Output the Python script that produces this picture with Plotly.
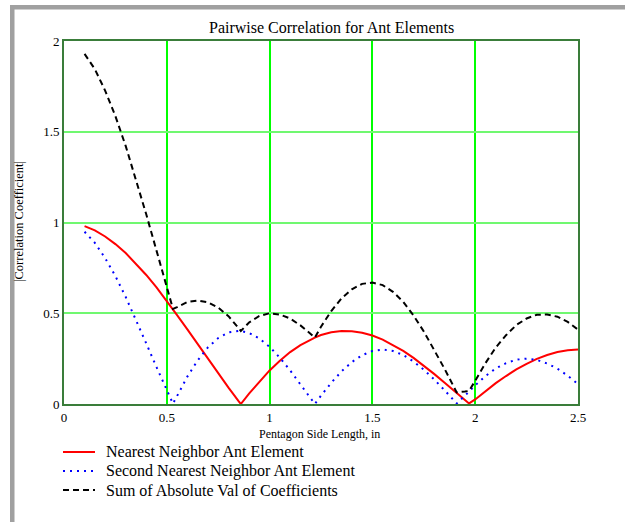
import plotly.graph_objects as go

# Pentagon side length (in) at which the correlations were evaluated
side_length = [0.10, 0.15, 0.20, 0.25, 0.30, 0.35, 0.40, 0.45, 0.50, 0.53,
               0.55, 0.60, 0.65, 0.70, 0.75, 0.80, 0.85, 0.86, 0.90, 0.95,
               1.00, 1.05, 1.10, 1.15, 1.20, 1.22, 1.25, 1.30, 1.35, 1.40,
               1.45, 1.50, 1.55, 1.60, 1.65, 1.70, 1.75, 1.80, 1.85, 1.90,
               1.91, 1.95, 1.97, 2.00, 2.05, 2.10, 2.15, 2.20, 2.25, 2.30,
               2.35, 2.40, 2.45, 2.50]

nearest = [0.980, 0.957, 0.923, 0.881, 0.832, 0.774, 0.711, 0.642, 0.568, 0.522,
           0.490, 0.411, 0.330, 0.248, 0.168, 0.090, 0.014, 0.000, 0.057, 0.124,
           0.185, 0.238, 0.286, 0.324, 0.355, 0.366, 0.380, 0.395, 0.402, 0.401,
           0.393, 0.377, 0.355, 0.326, 0.293, 0.254, 0.211, 0.166, 0.119, 0.071,
           0.061, 0.023, 0.003, 0.025, 0.071, 0.115, 0.154, 0.191, 0.221, 0.249,
           0.270, 0.286, 0.296, 0.300]

second_nearest = [0.949, 0.888, 0.804, 0.705, 0.590, 0.465, 0.334, 0.203, 0.076, 0.002,
                  0.044, 0.151, 0.240, 0.312, 0.363, 0.394, 0.403, 0.402, 0.392, 0.361,
                  0.315, 0.255, 0.185, 0.109, 0.031, 0.000, 0.046, 0.117, 0.180, 0.231,
                  0.269, 0.292, 0.300, 0.292, 0.270, 0.234, 0.189, 0.136, 0.077, 0.015,
                  0.003, 0.046, 0.069, 0.103, 0.154, 0.196, 0.225, 0.244, 0.250, 0.243,
                  0.223, 0.195, 0.156, 0.110]

abs_sum = [1.929, 1.845, 1.727, 1.586, 1.422, 1.239, 1.045, 0.845, 0.644, 0.524,
           0.534, 0.562, 0.570, 0.560, 0.531, 0.484, 0.417, 0.402, 0.449, 0.485,
           0.500, 0.493, 0.471, 0.433, 0.386, 0.366, 0.426, 0.512, 0.582, 0.632,
           0.662, 0.669, 0.655, 0.618, 0.563, 0.488, 0.400, 0.302, 0.196, 0.086,
           0.064, 0.069, 0.072, 0.128, 0.225, 0.311, 0.379, 0.435, 0.471, 0.492,
           0.493, 0.481, 0.452, 0.410]

series_names = ["Nearest Neighbor Ant Element",
                "Second Nearest Neighbor Ant Element",
                "Sum of Absolute Val of Coefficients"]

x_ticks = [0, 0.5, 1, 1.5, 2, 2.5]
x_tick_text = ["0", "0.5", "1", "1.5", "2", "2.5"]
y_ticks = [0, 0.5, 1, 1.5, 2]
y_tick_text = ["0", "0.5", "1", "1.5", "2"]

SERIF = "Liberation Serif, Times New Roman, serif"

W, H = 637, 522
L, R, T, B = 64, 578, 41, 404  # plot area in pixels


def px(xp):
    return (xp - L) / (R - L)


def py(yp):
    return (B - yp) / (B - T)


styles = [dict(color="#ff0000", width=2),
          dict(color="#0000ff", width=2, dash="2px,5px"),
          dict(color="#000000", width=2, dash="6px,4px")]

fig = go.Figure()
for name, values, style in zip(series_names, [nearest, second_nearest, abs_sum], styles):
    fig.add_trace(go.Scatter(x=side_length, y=values, mode="lines",
                             name=name, line=style))

# legend drawn beneath the plot: sample line + label per series
legend_rows = [452, 471, 490]
shapes = [
    dict(type="rect", xref="paper", yref="paper", x0=px(10), x1=px(14.5),
         y0=py(5), y1=py(522), fillcolor="#a0a0a0", line=dict(width=0), layer="above"),
    dict(type="rect", xref="paper", yref="paper", x0=px(10), x1=px(625),
         y0=py(5), y1=py(9.5), fillcolor="#a0a0a0", line=dict(width=0), layer="above"),
]
annotations = [
    dict(text="Pairwise Correlation for Ant Elements", x=px(331), y=py(27),
         xref="paper", yref="paper", showarrow=False,
         font=dict(size=16, family=SERIF), xanchor="center", yanchor="middle"),
    dict(text="Pentagon Side Length, in", x=px(319), y=py(434),
         xref="paper", yref="paper", showarrow=False,
         font=dict(size=12, family=SERIF), xanchor="center", yanchor="middle"),
    dict(text="|Correlation Coefficient|", x=px(19), y=py(222), textangle=-90,
         xref="paper", yref="paper", showarrow=False,
         font=dict(size=12.5, family=SERIF), xanchor="center", yanchor="middle"),
]
for row_y, name, style in zip(legend_rows, series_names, styles):
    shapes.append(dict(type="line", xref="paper", yref="paper",
                       x0=px(63), x1=px(95), y0=py(row_y), y1=py(row_y),
                       line=style, layer="above"))
    annotations.append(dict(text=name, x=px(104), y=py(row_y), xref="paper", yref="paper",
                            showarrow=False, xanchor="left", yanchor="middle",
                            font=dict(size=16, family=SERIF)))

fig.update_layout(
    width=W, height=H,
    margin=dict(l=L, r=W - R, t=T, b=H - B, autoexpand=False),
    paper_bgcolor="white", plot_bgcolor="white",
    font=dict(family=SERIF, color="black"),
    showlegend=False,
    xaxis=dict(range=[0, 2.5], tickvals=x_ticks, ticktext=x_tick_text,
               showgrid=True, gridcolor="#00ff00", gridwidth=1.5,
               showline=True, linecolor="#3a7d3a", linewidth=2, mirror=True,
               zeroline=False, ticks="", tickfont=dict(size=13, family=SERIF)),
    yaxis=dict(range=[0, 2], tickvals=y_ticks, ticktext=y_tick_text,
               showgrid=True, gridcolor="#70f870", gridwidth=1.5,
               showline=True, linecolor="#3a7d3a", linewidth=2, mirror=True,
               zeroline=False, ticks="", tickfont=dict(size=13, family=SERIF)),
    annotations=annotations,
    shapes=shapes,
)

fig.write_html("out.html")
